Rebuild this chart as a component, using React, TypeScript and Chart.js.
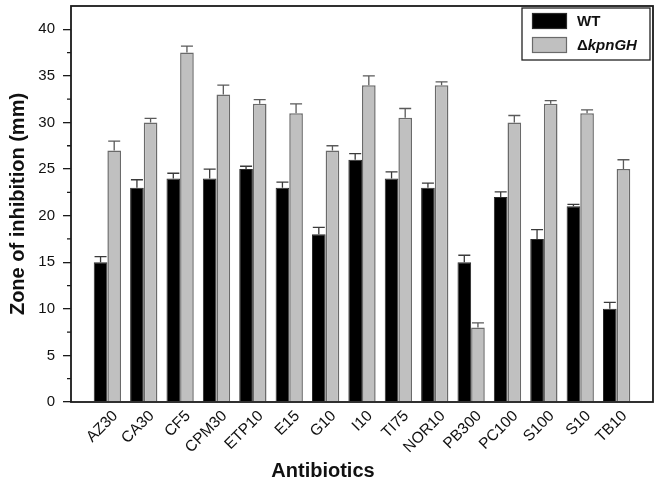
import React, { useEffect, useRef } from 'react';
import { Chart, registerables } from 'chart.js';

Chart.register(...registerables);

const categories = ['AZ30', 'CA30', 'CF5', 'CPM30', 'ETP10', 'E15', 'G10', 'I10', 'TI75', 'NOR10', 'PB300', 'PC100', 'S100', 'S10', 'TB10'];
const seriesNames = ['WT', 'ΔkpnGH'];
const wtValues = [15, 23, 24, 24, 25, 23, 18, 26, 24, 23, 15, 22, 17.5, 21, 10];
const wtErrors = [0.6, 0.85, 0.55, 1.0, 0.3, 0.6, 0.75, 0.65, 0.7, 0.5, 0.75, 0.55, 1.0, 0.2, 0.7];
const mutValues = [27, 30, 37.5, 33, 32, 31, 27, 34, 30.5, 34, 8, 30, 32, 31, 25];
const mutErrors = [1.0, 0.45, 0.7, 1.0, 0.45, 1.0, 0.5, 1.0, 1.0, 0.35, 0.5, 0.75, 0.35, 0.35, 1.0];
const yMajorTicks = [0, 5, 10, 15, 20, 25, 30, 35, 40];
const yMinorTicks = [2.5, 7.5, 12.5, 17.5, 22.5, 27.5, 32.5, 37.5];
const yTitle = 'Zone of inhibition (mm)';
const xTitle = 'Antibiotics';

const FONT = "'Liberation Sans', Arial, Helvetica, sans-serif";

const pad = (arr: any[]) => [null, ...arr, null];

const decorPlugin = {
  id: 'decor',
  afterDatasetsDraw(chart: any) {
    const { ctx, chartArea, scales } = chart;
    const y = scales.y;
    ctx.save();
    // error bars
    chart.data.datasets.forEach((ds: any, i: number) => {
      const meta = chart.getDatasetMeta(i);
      ctx.strokeStyle = ds.errorColor;
      ctx.lineWidth = 1.3;
      meta.data.forEach((bar: any, j: number) => {
        const v = ds.data[j];
        const e = ds.errors[j];
        if (v == null || e == null) return;
        const x = bar.x;
        const yTop = y.getPixelForValue(v);
        const yErr = y.getPixelForValue(v + e);
        const half = 6;
        ctx.beginPath();
        ctx.moveTo(x, yTop);
        ctx.lineTo(x, yErr);
        ctx.moveTo(x - half, yErr);
        ctx.lineTo(x + half, yErr);
        ctx.stroke();
      });
    });
    // frame
    ctx.strokeStyle = '#1a1a1a';
    ctx.lineWidth = 1.8;
    ctx.strokeRect(chartArea.left, chartArea.top, chartArea.right - chartArea.left, chartArea.bottom - chartArea.top);
    // minor ticks
    ctx.lineWidth = 1.3;
    ctx.beginPath();
    yMinorTicks.forEach((t) => {
      const py = y.getPixelForValue(t);
      ctx.moveTo(chartArea.left - 4, py);
      ctx.lineTo(chartArea.left, py);
    });
    ctx.stroke();
    // legend
    const bw = 128, bh = 52;
    const bx = chartArea.right - 3 - bw;
    const by = chartArea.top + 2;
    ctx.fillStyle = '#ffffff';
    ctx.fillRect(bx, by, bw, bh);
    ctx.strokeStyle = '#222';
    ctx.lineWidth = 1.3;
    ctx.strokeRect(bx, by, bw, bh);
    chart.data.datasets.forEach((ds: any, i: number) => {
      const sx = bx + 10;
      const sy = by + 5 + i * 24;
      ctx.fillStyle = ds.backgroundColor;
      ctx.fillRect(sx, sy, 35, 16);
      ctx.strokeStyle = ds.borderColor;
      ctx.lineWidth = 1.2;
      ctx.strokeRect(sx + 0.5, sy + 0.5, 34, 15);
      ctx.fillStyle = '#111';
      ctx.textBaseline = 'middle';
      ctx.textAlign = 'left';
      const label: string = ds.label;
      let tx = sx + 45;
      const ty = sy + 8.5;
      if (label.startsWith('Δ')) {
        ctx.font = `bold 15px ${FONT}`;
        ctx.fillText('Δ', tx, ty);
        tx += ctx.measureText('Δ').width;
        ctx.font = `italic bold 15px ${FONT}`;
        ctx.fillText(label.slice(1), tx, ty);
      } else {
        ctx.font = `bold 15px ${FONT}`;
        ctx.fillText(label, tx, ty);
      }
    });
    // x title
    ctx.fillStyle = '#111';
    ctx.font = `bold 20px ${FONT}`;
    ctx.textAlign = 'center';
    ctx.textBaseline = 'middle';
    ctx.fillText(xTitle, chartArea.left + (chartArea.right - chartArea.left) * 0.433, chartArea.bottom + 69);
    ctx.restore();
  },
};

export default function App() {
  const ref = useRef<HTMLCanvasElement | null>(null);
  useEffect(() => {
    if (!ref.current) return;
    const chart = new Chart(ref.current, {
      type: 'bar',
      data: {
        labels: ['', ...categories, ''],
        datasets: [
          {
            label: seriesNames[0],
            data: pad(wtValues),
            errors: pad(wtErrors),
            backgroundColor: '#000000',
            borderColor: '#2a2a2a',
            borderWidth: 1,
            errorColor: '#3a3a3a',
          } as any,
          {
            label: seriesNames[1],
            data: pad(mutValues),
            errors: pad(mutErrors),
            backgroundColor: '#c0c0c0',
            borderColor: '#6a6a6a',
            borderWidth: 1.5,
            errorColor: '#5a5a5a',
          } as any,
        ],
      },
      options: {
        responsive: false,
        animation: false,
        layout: { padding: { left: 0, top: 6, right: 6, bottom: 0 } },
        datasets: { bar: { categoryPercentage: 0.75, barPercentage: 1 } },
        plugins: { legend: { display: false }, tooltip: { enabled: false } },
        scales: {
          x: {
            offset: false,
            grid: { display: false, drawTicks: false },
            border: { display: false },
            ticks: {
              autoSkip: false,
              maxRotation: 45,
              minRotation: 45,
              padding: 5,
              labelOffset: 8,
              color: '#111',
              font: { family: FONT, size: 15.5 },
            },
            afterFit: (s: any) => {
              s.height = 85;
              s.paddingLeft = 0;
              s.paddingRight = 0;
            },
          },
          y: {
            min: 0,
            max: 42.5,
            grid: { display: true, drawOnChartArea: false, drawTicks: true, tickLength: 8, color: '#1a1a1a', lineWidth: 1.3 },
            border: { display: false },
            afterBuildTicks: (s: any) => {
              s.ticks = yMajorTicks.map((v) => ({ value: v }));
            },
            ticks: {
              padding: 8,
              color: '#111',
              font: { family: FONT, size: 15 },
            },
            title: {
              display: true,
              text: yTitle,
              color: '#111',
              font: { family: FONT, size: 20, weight: 'bold' },
              padding: { top: 6, bottom: 0 },
            },
            afterFit: (s: any) => {
              s.width = 71;
              s.paddingTop = 0;
              s.paddingBottom = 0;
            },
          },
        },
      },
      plugins: [decorPlugin],
    });
    return () => chart.destroy();
  }, []);
  return (
    <div style={{ position: 'absolute', left: 0, top: 0, width: 659, height: 487, background: '#fff' }}>
      <canvas ref={ref} width={659} height={487} style={{ display: 'block' }} />
    </div>
  );
}
